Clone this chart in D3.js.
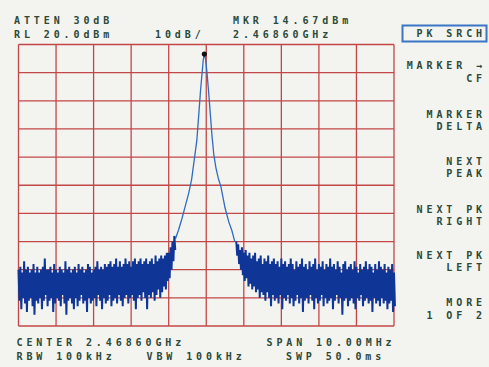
<!DOCTYPE html>
<html><head><meta charset="utf-8">
<script src="https://cdn.jsdelivr.net/npm/d3@7/dist/d3.min.js"></script>
<style>
html,body{margin:0;padding:0;background:#f3f3ef;}
svg{display:block;}
.t{font-family:"DejaVu Sans Mono",monospace;font-size:10px;font-weight:bold;letter-spacing:3.9px;fill:#2b4a3a;}
</style></head>
<body>
<script>
// ---- data ----
const headerLeft = ["ATTEN 30dB", "RL 20.0dBm"];
const scaleLabel = "10dB/";
const markerLines = ["MKR 14.67dBm", "2.46860GHz"];
const softkeyTitle = "PK SRCH";
const softkeys = [["MARKER →", "CF"], ["MARKER", "DELTA"], ["NEXT", "PEAK"], ["NEXT PK", "RIGHT"], ["NEXT PK", "LEFT"], ["MORE", "1 OF 2"]];
const footerRow1 = ["CENTER 2.46860GHz", "SPAN 10.00MHz"];
const footerRow2 = ["RBW 100kHz", "VBW 100kHz", "SWP 50.0ms"];

const startFreq = 2463.6, stopFreq = 2473.6;   // MHz
const refLevel = 20, bottomLevel = -80;        // dBm, 10 dB/div
const gridFreqs = [2463.6, 2464.6, 2465.6, 2466.6, 2467.6, 2468.6, 2469.6, 2470.6, 2471.6, 2472.6, 2473.6];
const gridLevels = [20, 10, 0, -10, -20, -30, -40, -50, -60, -70, -80];

// noise floor left of the carrier (start 2463.60 MHz, step 0.05 MHz): upper / lower excursions, dBm
const leftStep = 0.05, leftStart = 2463.6;
const leftHi = [-60,-59,-61,-57,-60,-59,-61,-60,-58,-61,
  -59,-61,-60,-59,-56,-60,-60,-59,-61,-58,
  -60,-61,-59,-60,-61,-57,-60,-59,-61,-60,
  -59,-61,-58,-60,-59,-61,-60,-58,-59,-61,
  -60,-59,-57,-60,-59,-60,-58,-59,-58,-57,
  -59,-58,-56,-59,-57,-59,-58,-56,-58,-57,
  -59,-57,-56,-58,-57,-56,-58,-57,-56,-58,
  -57,-56,-58,-55,-57,-56,-55,-56,-55,-54,
  -54,-52,-50,-48];
const leftLo = [-71,-74,-70,-72,-75,-71,-70,-73,-76,-71,
  -72,-70,-74,-71,-69,-73,-71,-70,-75,-72,
  -70,-71,-73,-69,-72,-76,-71,-70,-72,-74,
  -70,-73,-71,-69,-72,-71,-75,-70,-72,-71,
  -70,-73,-69,-71,-74,-70,-72,-71,-69,-73,
  -71,-70,-72,-69,-71,-73,-70,-69,-72,-70,
  -69,-71,-74,-70,-69,-71,-68,-70,-74,-69,
  -70,-68,-71,-69,-67,-70,-68,-66,-67,-64,
  -63,-60,-57,-53];

// carrier skirt (MHz, dBm)
const skirtFreq = [2467.78, 2467.86, 2467.95, 2468.05, 2468.13, 2468.21, 2468.28, 2468.35, 2468.40, 2468.45, 2468.49, 2468.52, 2468.55, 2468.58, 2468.62, 2468.67, 2468.71, 2468.75, 2468.80, 2468.86, 2468.92, 2468.99, 2469.10, 2469.20, 2469.28, 2469.36];
const skirtLevel = [-49, -46, -42, -37, -33, -28, -21, -14, -5, 4, 10, 14.5, 16.6, 15, 10, 2, -5, -12, -19, -24, -27.5, -30.5, -38, -43, -46, -50];
const peakFreq = 2468.55, peakLevel = 16.6;

// noise floor right of the carrier (start 2469.40 MHz, step 0.05 MHz)
const rightStep = 0.05, rightStart = 2469.4;
const rightHi = [-50,-51,-53,-52,-54,-53,-55,-54,-56,-55,
  -54,-57,-56,-55,-58,-56,-57,-55,-58,-57,
  -56,-58,-57,-59,-56,-58,-57,-59,-58,-56,
  -58,-60,-57,-59,-58,-56,-59,-58,-60,-57,
  -59,-58,-56,-60,-58,-59,-57,-60,-58,-59,
  -56,-59,-58,-60,-57,-59,-61,-58,-57,-60,
  -59,-58,-60,-57,-59,-61,-58,-60,-59,-57,
  -60,-58,-59,-61,-58,-60,-57,-59,-60,-58,
  -61,-59,-60,-58,-61];
const rightLo = [-55,-58,-60,-62,-64,-63,-66,-65,-67,-66,
  -68,-67,-70,-68,-69,-71,-68,-70,-73,-69,
  -71,-70,-72,-69,-74,-70,-71,-69,-72,-70,
  -73,-71,-69,-72,-70,-75,-71,-70,-72,-69,
  -71,-74,-70,-72,-71,-69,-73,-70,-72,-71,
  -70,-74,-71,-69,-72,-70,-76,-71,-70,-73,
  -71,-70,-72,-74,-70,-71,-69,-73,-71,-70,
  -72,-71,-75,-70,-72,-71,-73,-70,-72,-71,
  -74,-72,-71,-75,-73];

// ---- drawing ----
const W = 489, H = 367;
const svg = d3.select("body").append("svg").attr("width", W).attr("height", H);
svg.append("rect").attr("width", W).attr("height", H).attr("fill", "#f3f3ef");

const x = d3.scaleLinear().domain([startFreq, stopFreq]).range([18.5, 394]);
const y = d3.scaleLinear().domain([bottomLevel, refLevel]).range([326, 44.5]);

const grid = svg.append("g").attr("stroke", "#c24848").attr("stroke-width", 1.3);
grid.selectAll("line.v").data(gridFreqs).join("line").attr("class", "v")
  .attr("x1", d => x(d)).attr("x2", d => x(d)).attr("y1", y(refLevel)).attr("y2", y(bottomLevel));
grid.selectAll("line.h").data(gridLevels).join("line").attr("class", "h")
  .attr("y1", d => y(d)).attr("y2", d => y(d)).attr("x1", x(startFreq)).attr("x2", x(stopFreq));

function zigzag(start, step, hi, lo) {
  const pts = [];
  hi.forEach((h, i) => {
    const f = start + i * step;
    pts.push([f, h]); pts.push([f + step * 0.5, lo[i]]);
  });
  return pts;
}
const line = d3.line().x(d => x(d[0])).y(d => y(d[1]));
const leftPts = zigzag(leftStart, leftStep, leftHi, leftLo);
const rightPts = zigzag(rightStart, rightStep, rightHi, rightLo);
const skirtPts = skirtFreq.map((f, i) => [f, skirtLevel[i]]);

svg.append("path").attr("d", line(skirtPts)).attr("fill", "none")
  .attr("stroke", "#2f6cc2").attr("stroke-width", 1.3).attr("stroke-linejoin", "round");
svg.append("path").attr("d", line(leftPts)).attr("fill", "none")
  .attr("stroke", "#0f3696").attr("stroke-width", 2);
svg.append("path").attr("d", line(rightPts)).attr("fill", "none")
  .attr("stroke", "#0f3696").attr("stroke-width", 2);

svg.append("circle").attr("cx", x(peakFreq)).attr("cy", y(peakLevel)).attr("r", 2.6).attr("fill", "#111");

// texts
const txt = (s, tx, ty, anchor) => svg.append("text").attr("class", "t")
  .attr("x", tx).attr("y", ty).attr("text-anchor", anchor || "start").text(s);
txt(headerLeft[0], 14, 23.5);
txt(headerLeft[1], 14, 37.5);
txt(scaleLabel, 155, 37.5);
txt(markerLines[0], 233, 23.5);
txt(markerLines[1], 233, 37.5);

svg.append("rect").attr("x", 402.5).attr("y", 25.5).attr("width", 84).attr("height", 16)
  .attr("fill", "none").attr("stroke", "#3a76c6").attr("stroke-width", 2);
txt(softkeyTitle, 486, 37, "end");

const keyBase = [69, 117.5, 164.5, 212.5, 258.5, 306];
softkeys.forEach((k, i) => {
  txt(k[0], 486, keyBase[i], "end");
  txt(k[1], 486, keyBase[i] + 12.5, "end");
});

txt(footerRow1[0], 16.5, 345.5);
txt(footerRow1[1], 266.5, 345.5);
txt(footerRow2[0], 16.5, 359.5);
txt(footerRow2[1], 146.5, 359.5);
txt(footerRow2[2], 286, 359.5);
</script>
</body></html>
